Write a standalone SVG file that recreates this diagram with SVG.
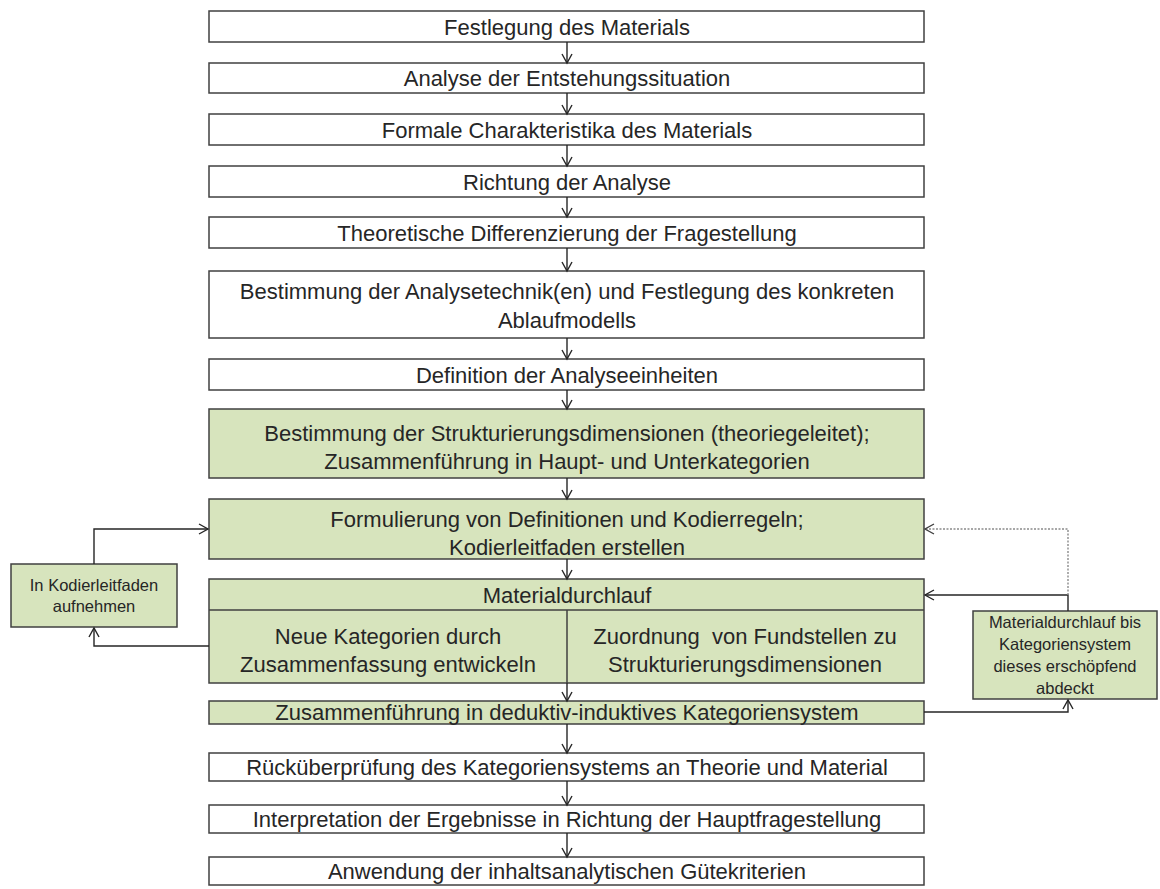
<svg xmlns="http://www.w3.org/2000/svg" width="1160" height="889" viewBox="0 0 1160 889">
  <style>
    .box { fill: #ffffff; stroke: #404040; stroke-width: 1.5; }
    .green { fill: #d7e4bd; stroke: #404040; stroke-width: 1.5; }
    .lbl { font-family: "Liberation Sans", Arial, sans-serif; font-size: 22px; fill: #262626; text-anchor: middle; white-space: pre; }
    .small { font-family: "Liberation Sans", Arial, sans-serif; font-size: 16.5px; fill: #262626; text-anchor: middle; }
    .link { fill: none; stroke: #262626; stroke-width: 1.4; }
    .dotted { fill: none; stroke: #8a8a8a; stroke-width: 1.4; stroke-dasharray: 2 1.5; }
  </style>
  <defs>
    <marker id="arrow" viewBox="0 0 12 12" refX="10" refY="6" markerWidth="12" markerHeight="12" markerUnits="userSpaceOnUse" orient="auto">
      <path d="M1,1 L10,6 L1,11" fill="none" stroke="#262626" stroke-width="1.4"/>
    </marker>
    <marker id="arrowGrey" viewBox="0 0 12 12" refX="10" refY="6" markerWidth="12" markerHeight="12" markerUnits="userSpaceOnUse" orient="auto">
      <path d="M1,1 L10,6 L1,11" fill="none" stroke="#404040" stroke-width="1.4"/>
    </marker>
  </defs>

  <rect width="1160" height="889" fill="#ffffff"/>

  <!-- main process steps -->
  <g id="step1">
    <rect class="box" x="209" y="11" width="715" height="31"/>
    <text class="lbl" x="567" y="34.5">Festlegung des Materials</text>
  </g>
  <g id="step2">
    <rect class="box" x="209" y="63" width="715" height="30"/>
    <text class="lbl" x="567" y="86">Analyse der Entstehungssituation</text>
  </g>
  <g id="step3">
    <rect class="box" x="209" y="114" width="715" height="31"/>
    <text class="lbl" x="567" y="137.5">Formale Charakteristika des Materials</text>
  </g>
  <g id="step4">
    <rect class="box" x="209" y="166" width="715" height="31"/>
    <text class="lbl" x="567" y="189.5">Richtung der Analyse</text>
  </g>
  <g id="step5">
    <rect class="box" x="209" y="217" width="715" height="31"/>
    <text class="lbl" x="567" y="240.5">Theoretische Differenzierung der Fragestellung</text>
  </g>
  <g id="step6">
    <rect class="box" x="209" y="271" width="715" height="67"/>
    <text class="lbl" x="567" y="299">Bestimmung der Analysetechnik(en) und Festlegung des konkreten</text>
    <text class="lbl" x="567" y="328">Ablaufmodells</text>
  </g>
  <g id="step7">
    <rect class="box" x="209" y="359" width="715" height="31"/>
    <text class="lbl" x="567" y="382.5">Definition der Analyseeinheiten</text>
  </g>
  <g id="step8">
    <rect class="green" x="209" y="409" width="715" height="69"/>
    <text class="lbl" x="567" y="441">Bestimmung der Strukturierungsdimensionen (theoriegeleitet);</text>
    <text class="lbl" x="567" y="469">Zusammenführung in Haupt- und Unterkategorien</text>
  </g>
  <g id="step9">
    <rect class="green" x="209" y="499" width="715" height="60"/>
    <text class="lbl" x="567" y="527">Formulierung von Definitionen und Kodierregeln;</text>
    <text class="lbl" x="567" y="555">Kodierleitfaden erstellen</text>
  </g>
  <g id="step10">
    <rect class="green" x="209" y="579" width="715" height="104"/>
    <line x1="209" y1="610" x2="924" y2="610" stroke="#404040" stroke-width="1.5"/>
    <line x1="567" y1="610" x2="567" y2="683" stroke="#404040" stroke-width="1.5"/>
    <text class="lbl" x="567" y="603">Materialdurchlauf</text>
    <text class="lbl" x="388" y="644">Neue Kategorien durch</text>
    <text class="lbl" x="388" y="672">Zusammenfassung entwickeln</text>
    <text class="lbl" x="745" y="644" xml:space="preserve">Zuordnung  von Fundstellen zu</text>
    <text class="lbl" x="745" y="672">Strukturierungsdimensionen</text>
  </g>
  <g id="step11">
    <rect class="green" x="209" y="701" width="715" height="23"/>
    <text class="lbl" x="567" y="720">Zusammenführung in deduktiv-induktives Kategoriensystem</text>
  </g>
  <g id="step12">
    <rect class="box" x="209" y="753" width="715" height="28"/>
    <text class="lbl" x="567" y="775">Rücküberprüfung des Kategoriensystems an Theorie und Material</text>
  </g>
  <g id="step13">
    <rect class="box" x="209" y="805" width="715" height="28"/>
    <text class="lbl" x="567" y="827">Interpretation der Ergebnisse in Richtung der Hauptfragestellung</text>
  </g>
  <g id="step14">
    <rect class="box" x="209" y="857" width="715" height="28"/>
    <text class="lbl" x="567" y="879">Anwendung der inhaltsanalytischen Gütekriterien</text>
  </g>

  <!-- side loops -->
  <g id="side-left">
    <rect class="green" x="11" y="564" width="166" height="63"/>
    <text class="small" x="94" y="591">In Kodierleitfaden</text>
    <text class="small" x="94" y="612">aufnehmen</text>
  </g>
  <g id="side-right">
    <rect class="green" x="973" y="611" width="184" height="88"/>
    <text class="small" x="1065" y="628">Materialdurchlauf bis</text>
    <text class="small" x="1065" y="650">Kategoriensystem</text>
    <text class="small" x="1065" y="672">dieses erschöpfend</text>
    <text class="small" x="1065" y="694">abdeckt</text>
  </g>

  <!-- connectors -->
  <g id="connectors">
    <line class="link" x1="567" y1="42" x2="567" y2="63" marker-end="url(#arrow)"/>
    <line class="link" x1="567" y1="93" x2="567" y2="114" marker-end="url(#arrow)"/>
    <line class="link" x1="567" y1="145" x2="567" y2="166" marker-end="url(#arrow)"/>
    <line class="link" x1="567" y1="197" x2="567" y2="217" marker-end="url(#arrow)"/>
    <line class="link" x1="567" y1="248" x2="567" y2="271" marker-end="url(#arrow)"/>
    <line class="link" x1="567" y1="338" x2="567" y2="359" marker-end="url(#arrow)"/>
    <line class="link" x1="567" y1="390" x2="567" y2="409" marker-end="url(#arrow)"/>
    <line class="link" x1="567" y1="478" x2="567" y2="499" marker-end="url(#arrow)"/>
    <line class="link" x1="567" y1="559" x2="567" y2="579" marker-end="url(#arrow)"/>
    <line class="link" x1="567" y1="683" x2="567" y2="701" marker-end="url(#arrow)"/>
    <line class="link" x1="567" y1="724" x2="567" y2="753" marker-end="url(#arrow)"/>
    <line class="link" x1="567" y1="781" x2="567" y2="805" marker-end="url(#arrow)"/>
    <line class="link" x1="567" y1="833" x2="567" y2="857" marker-end="url(#arrow)"/>

    <!-- left loop: new categories back into the coding guide -->
    <polyline class="link" points="209,646 94,646 94,628" marker-end="url(#arrow)"/>
    <polyline class="link" points="94,564 94,529 208,529" marker-end="url(#arrow)"/>

    <!-- right loop: run through material until the system covers it -->
    <polyline class="link" points="924,712 1068,712 1068,700" marker-end="url(#arrow)"/>
    <polyline class="link" points="1068,611 1068,595 925,595" marker-end="url(#arrow)"/>
    <polyline class="dotted" points="1068,595 1068,529 925,529" marker-end="url(#arrowGrey)"/>
  </g>
</svg>
